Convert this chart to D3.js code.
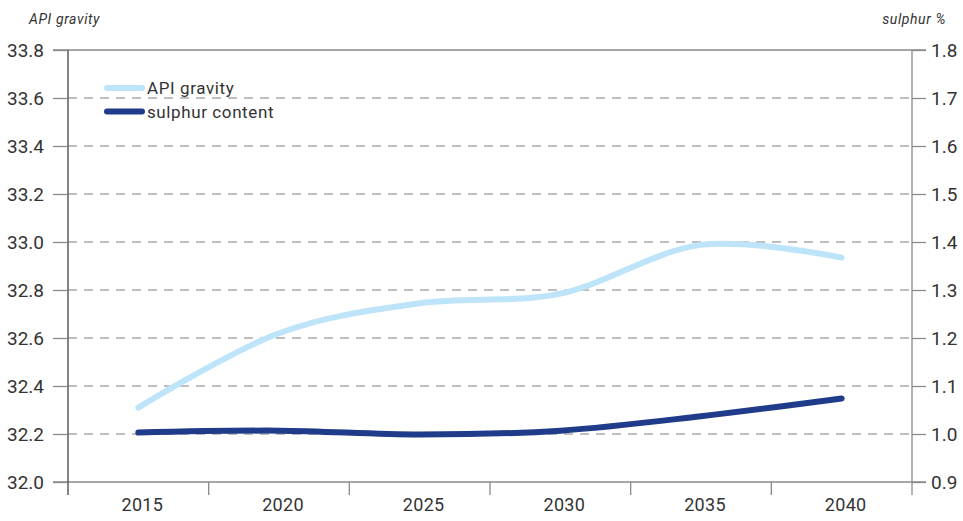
<!DOCTYPE html>
<html>
<head>
<meta charset="utf-8">
<script src="https://cdn.jsdelivr.net/npm/d3@7"></script>
<style>
  body { margin: 0; background: #fff; }
  svg text { font-family: Roboto, "DejaVu Sans", sans-serif; fill: #333; }
</style>
</head>
<body>
<svg id="chart"></svg>
<script>
// data
var years = ["2015", "2020", "2025", "2030", "2035", "2040"];
var apiGravity = [32.31, 32.62, 32.745, 32.785, 32.988, 32.935];
var sulphur = [1.003, 1.007, 0.999, 1.007, 1.037, 1.074];
var leftTicks = [32.0, 32.2, 32.4, 32.6, 32.8, 33.0, 33.2, 33.4, 33.6, 33.8];
var rightTicks = [0.9, 1.0, 1.1, 1.2, 1.3, 1.4, 1.5, 1.6, 1.7, 1.8];
var seriesNames = ["API gravity", "sulphur content"];
var seriesColors = ["#bee4fa", "#1f3b8a"];

var width = 963, height = 521;
var margin = {top: 50, right: 51, bottom: 39, left: 68};

var svg = d3.select("#chart")
  .attr("width", width)
  .attr("height", height);

var x = d3.scaleBand()
  .domain(years)
  .range([margin.left, width - margin.right])
  .padding(0);

var yL = d3.scaleLinear()
  .domain([32.0, 33.8])
  .range([height - margin.bottom, margin.top]);

var yR = d3.scaleLinear()
  .domain([0.9, 1.8])
  .range([height - margin.bottom, margin.top]);

var x0 = margin.left, x1 = width - margin.right;

// gridlines
svg.append("g")
  .selectAll("line")
  .data(leftTicks.slice(1, -1))
  .enter()
  .append("line")
  .attr("x1", x0)
  .attr("x2", x1)
  .attr("y1", function(d) { return yL(d); })
  .attr("y2", function(d) { return yL(d); })
  .attr("stroke", "#a9a9a9")
  .attr("stroke-width", 1.3)
  .attr("stroke-dasharray", "9,7");

// solid top and bottom lines
[leftTicks[0], leftTicks[leftTicks.length - 1]].forEach(function(v) {
  svg.append("line")
    .attr("x1", x0 - 15)
    .attr("x2", x1 + 14)
    .attr("y1", yL(v))
    .attr("y2", yL(v))
    .attr("stroke", "#8a8a8a")
    .attr("stroke-width", 1.3);
});

// left axis
var leftAxis = svg.append("g")
  .attr("transform", "translate(" + x0 + ",0)")
  .call(d3.axisLeft(yL).tickValues(leftTicks).tickFormat(d3.format(".1f")).tickSize(15).tickPadding(9));
leftAxis.select(".domain").attr("stroke", "#333").attr("stroke-width", 1.2)
  .attr("d", "M0," + yL(33.8) + "V" + (yL(32.0) + 13));
leftAxis.selectAll(".tick line").attr("stroke", "#8a8a8a").attr("stroke-width", 1.3);
leftAxis.selectAll("text").style("font-size", "19px").style("fill", "#333");

// right axis
var rightAxis = svg.append("g")
  .attr("transform", "translate(" + x1 + ",0)")
  .call(d3.axisRight(yR).tickValues(rightTicks).tickFormat(d3.format(".1f")).tickSize(14).tickPadding(5));
rightAxis.select(".domain").attr("stroke", "#8a8a8a").attr("stroke-width", 1.3)
  .attr("d", "M0," + yR(1.8) + "V" + (yR(0.9) + 13));
rightAxis.selectAll(".tick line").attr("stroke", "#8a8a8a").attr("stroke-width", 1.3);
rightAxis.selectAll("text").style("font-size", "19px").style("fill", "#333");

// bottom axis: labels at band centres, ticks at band boundaries
var bottomAxis = svg.append("g")
  .attr("transform", "translate(0," + (height - margin.bottom) + ")")
  .call(d3.axisBottom(x).tickSize(0).tickPadding(16));
bottomAxis.select(".domain").remove();
bottomAxis.selectAll("text")
  .attr("dx", 4)
  .style("font-size", "18px")
  .style("letter-spacing", "0.3px")
  .style("fill", "#333");

svg.append("g")
  .selectAll("line")
  .data(years.slice(1))
  .enter()
  .append("line")
  .attr("x1", function(d) { return x(d); })
  .attr("x2", function(d) { return x(d); })
  .attr("y1", height - margin.bottom)
  .attr("y2", height - margin.bottom + 13)
  .attr("stroke", "#8a8a8a")
  .attr("stroke-width", 1.3);

// axis titles
svg.append("text")
  .attr("x", 29)
  .attr("y", 24)
  .text("API gravity")
  .style("font-size", "14px")
  .style("letter-spacing", "0.6px")
  .style("font-style", "italic");

svg.append("text")
  .attr("x", 946)
  .attr("y", 24)
  .attr("text-anchor", "end")
  .text("sulphur %")
  .style("font-size", "14px")
  .style("letter-spacing", "0.6px")
  .style("font-style", "italic");

// lines
var cx = function(d, i) { return x(years[i]) + x.bandwidth() / 2; };

var apiLine = d3.line()
  .x(cx)
  .y(function(d) { return yL(d); })
  .curve(d3.curveCatmullRom.alpha(0));

var sulphurLine = d3.line()
  .x(cx)
  .y(function(d) { return yR(d); })
  .curve(d3.curveCatmullRom.alpha(0));

svg.append("path")
  .datum(apiGravity)
  .attr("d", apiLine)
  .attr("fill", "none")
  .attr("stroke", seriesColors[0])
  .attr("stroke-width", 6)
  .attr("stroke-linecap", "round");

svg.append("path")
  .datum(sulphur)
  .attr("d", sulphurLine)
  .attr("fill", "none")
  .attr("stroke", seriesColors[1])
  .attr("stroke-width", 6)
  .attr("stroke-linecap", "round");

// legend
var legend = svg.append("g")
  .attr("transform", "translate(107,88)");

legend.selectAll("line")
  .data(seriesNames)
  .enter()
  .append("line")
  .attr("x1", 0)
  .attr("x2", 35)
  .attr("y1", function(d, i) { return i * 23.5; })
  .attr("y2", function(d, i) { return i * 23.5; })
  .attr("stroke", function(d, i) { return seriesColors[i]; })
  .attr("stroke-width", 6)
  .attr("stroke-linecap", "round");

legend.selectAll("text")
  .data(seriesNames)
  .enter()
  .append("text")
  .attr("x", 40)
  .attr("y", function(d, i) { return i * 23.5 + 6; })
  .text(function(d) { return d; })
  .style("font-size", "17px")
  .style("letter-spacing", "0.6px");
</script>
</body>
</html>
